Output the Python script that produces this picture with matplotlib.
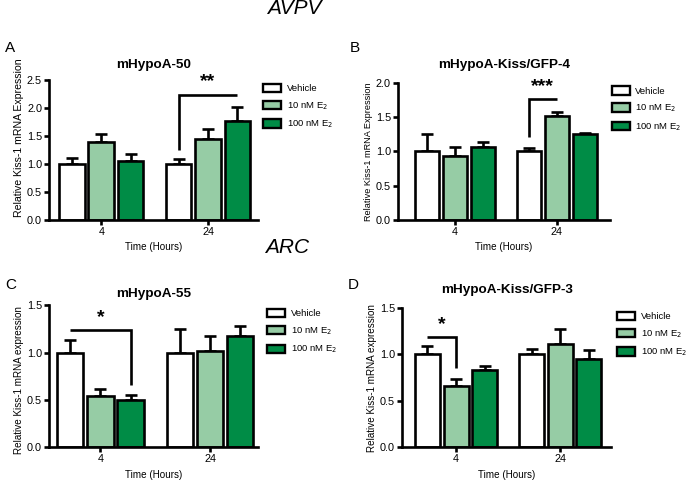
"""Kiss-1 mRNA expression after E2 treatment in four hypothalamic cell lines."""

import matplotlib

matplotlib.use("Agg")
import matplotlib.pyplot as plt
import numpy as np

plt.rcParams["font.family"] = ["Liberation Sans", "DejaVu Sans"]

# %% Data
times = ["4", "24"]
treatments = ["Vehicle", "10 nM E$_2$", "100 nM E$_2$"]
colors = ["#ffffff", "#96cca5", "#008c46"]

titles = ["mHypoA-50", "mHypoA-Kiss/GFP-4", "mHypoA-55", "mHypoA-Kiss/GFP-3"]
letters = ["A", "B", "C", "D"]
ylabels = [
    "Relative Kiss-1 mRNA Expression",
    "Relative Kiss-1 mRNA Expression",
    "Relative Kiss-1 mRNA expression",
    "Relative Kiss-1 mRNA expression",
]
ymax = [2.5, 2.0, 1.5, 1.5]
ystep = [0.5, 0.5, 0.5, 0.5]

# means[panel][treatment][time]
means = [
    [[1.00, 1.00], [1.39, 1.45], [1.06, 1.77]],
    [[1.00, 1.00], [0.93, 1.51], [1.07, 1.25]],
    [[1.00, 1.00], [0.54, 1.02], [0.50, 1.18]],
    [[1.00, 1.00], [0.66, 1.11], [0.83, 0.95]],
]
errors = [
    [[0.10, 0.09], [0.15, 0.17], [0.12, 0.24]],
    [[0.25, 0.05], [0.13, 0.07], [0.07, 0.02]],
    [[0.13, 0.25], [0.07, 0.15], [0.05, 0.10]],
    [[0.09, 0.06], [0.07, 0.16], [0.05, 0.10]],
]

# brackets: (time index, start bar, end bar, bracket height, drop side, drop to, stars)
brackets = [
    (1, 0, 2, 2.24, "left", 1.24, "**"),
    (1, 0, 1, 1.76, "left", 1.21, "***"),
    (0, 0, 2, 1.24, "right", 0.66, "*"),
    (0, 0, 1, 1.19, "right", 0.85, "*"),
]

# %% Layout
positions = [
    [0.0714, 0.544, 0.305, 0.290],
    [0.580, 0.544, 0.309, 0.284],
    [0.0714, 0.0726, 0.305, 0.294],
    [0.586, 0.0726, 0.305, 0.288],
]
xlims = [(-0.49, 1.47), (-0.56, 1.52), (-0.47, 1.44), (-0.52, 1.49)]
title_pads = [8.5, 11, 6, 11]
legend_anchor = [(1.024, 0.975), (1.009, 0.975), (1.043, 0.975), (1.029, 0.975)]
ylabel_size = [7.6, 6.55, 7.15, 7.1]
ylabel_y = [0.59, 0.5, 0.47, 0.5]
bar_w = 0.24
offsets = [-0.275, 0.0, 0.275]
lw = 1.9

fig = plt.figure(figsize=(6.86, 4.82), dpi=100)

for p in range(4):
    ax = fig.add_axes(positions[p])
    x = np.arange(len(times))
    for t in range(len(treatments)):
        xs = x + offsets[t]
        ax.bar(
            xs,
            means[p][t],
            width=bar_w,
            color=colors[t],
            edgecolor="black",
            linewidth=lw,
            label=treatments[t],
            zorder=2,
        )
        ax.errorbar(
            xs,
            means[p][t],
            yerr=[np.zeros(len(times)), errors[p][t]],
            fmt="none",
            ecolor="black",
            elinewidth=lw,
            capsize=4.2,
            capthick=lw,
            zorder=1,
        )

    # significance bracket
    ti, b0, b1, yb, side, ydrop, stars = brackets[p]
    x0 = ti + offsets[b0]
    x1 = ti + offsets[b1]
    if side == "left":
        ax.plot([x0, x0, x1], [ydrop, yb, yb], color="black", lw=lw,
                solid_capstyle="butt", solid_joinstyle="miter", clip_on=False)
    else:
        ax.plot([x0, x1, x1], [yb, yb, ydrop], color="black", lw=lw,
                solid_capstyle="butt", solid_joinstyle="miter", clip_on=False)
    ax.text((x0 + x1) / 2, yb + ymax[p] * 0.03, stars, ha="center", va="bottom",
            fontsize=14, fontweight="bold")

    ax.set_xlim(*xlims[p])
    ax.set_ylim(0, ymax[p])
    ax.set_xticks(x)
    ax.set_xticklabels(times, fontsize=7.8)
    ticks = np.arange(0, ymax[p] + 0.01, ystep[p])
    ax.set_yticks(ticks)
    ax.set_yticklabels([f"{v:.1f}" for v in ticks], fontsize=7.8)
    ax.tick_params(axis="both", width=lw, length=3.5, pad=1.5, color="black")
    for s in ["top", "right"]:
        ax.spines[s].set_visible(False)
    for s in ["left", "bottom"]:
        ax.spines[s].set_linewidth(lw)
    ax.set_ylabel(ylabels[p], fontsize=ylabel_size[p], labelpad=2)
    ax.yaxis.label.set_y(ylabel_y[p])
    ax.set_xlabel("Time (Hours)", fontsize=7.1, labelpad=4)
    ax.set_title(titles[p], fontsize=9.7, fontweight="bold", pad=title_pads[p])

    leg = ax.legend(
        loc="upper left",
        bbox_to_anchor=legend_anchor[p],
        frameon=False,
        fontsize=6.8,
        handlelength=1.9,
        handleheight=1.0,
        labelspacing=0.75,
        handletextpad=0.6,
        borderpad=0,
        borderaxespad=0,
    )
    for h in leg.legend_handles:
        h.set_linewidth(1.7)

# panel letters and region labels
for p, (lx, ly) in enumerate([(5, 48), (350, 48), (5, 285), (348, 285)]):
    fig.text(lx / 686, 1 - ly / 482, letters[p], fontsize=11, va="center", ha="left")
fig.text(267 / 686, 1 - 9 / 482, "AVPV", fontsize=15, style="italic", va="center")
fig.text(265 / 686, 1 - 248 / 482, "ARC", fontsize=15, style="italic", va="center")

fig.savefig("out.png", dpi=100)
